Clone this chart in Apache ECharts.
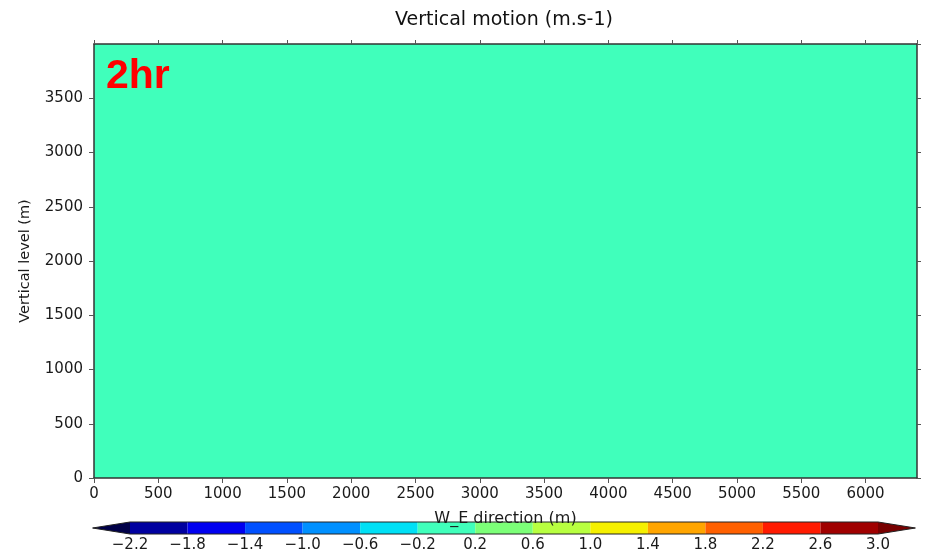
<!DOCTYPE html>
<html>
<head>
<meta charset="utf-8">
<script src="https://cdn.jsdelivr.net/npm/echarts@6/dist/echarts.min.js"></script>
<style>
    html, body { margin: 0; padding: 0; background: #fff; }
    #chart { width: 937px; height: 556px; }
</style>
</head>
<body>
<div id="chart"></div>
<script>
    // model cross-section: cell edges (m) and vertical motion (m/s) at 2hr
    var xEdges = [0, 6400];
    var zEdges = [0, 4000];
    var wField = [[0]];

    // contour levels and colours (jet), with the extend colours
    var levels = [-2.2, -1.8, -1.4, -1.0, -0.6, -0.2, 0.2, 0.6, 1.0, 1.4, 1.8, 2.2, 2.6, 3.0];
    var levelColors = ['#0000a0', '#0000f0', '#0050ff', '#0090ff', '#00e0f5', '#40ffbb',
        '#7cff78', '#b8ff40', '#f5f000', '#ffa500', '#ff6000', '#ff1a00', '#a00000'];
    var underColor = '#000048';
    var overColor = '#780000';

    var fontFamily = 'DejaVu Sans';
    var extendFrac = 0.05; // arrow length, fraction of the bar

    function colorFor(v) {
        if (v < levels[0]) return underColor;
        if (v > levels[levels.length - 1]) return overColor;
        for (var i = 0; i < levels.length - 1; i++) {
            if (v >= levels[i] && v < levels[i + 1]) return levelColors[i];
        }
        return levelColors[levelColors.length - 1];
    }

    function fmtLevel(v) {
        return v.toFixed(1).replace('-', '\u2212');
    }

    var fieldData = [];
    for (var j = 0; j < zEdges.length - 1; j++) {
        for (var i = 0; i < xEdges.length - 1; i++) {
            fieldData.push([xEdges[i], xEdges[i + 1], zEdges[j], zEdges[j + 1], wField[j][i]]);
        }
    }

    var barData = levelColors.map(function (c, i) { return [i, i + 1]; });
    var nBins = levelColors.length;
    var arrowLen = extendFrac * nBins;

    var axisLineStyle = {color: '#333', width: 1.5};
    var tickLabel = {color: '#1a1a1a', fontSize: 15, fontFamily: fontFamily};
    var plainNum = function (v) { return String(v); };

    var option = {
        animation: false,
        backgroundColor: '#fff',
        graphic: [
            {
                type: 'text', x: 504, y: 20, z: 10,
                style: {text: 'Vertical motion (m.s-1)', fill: '#111', font: '19px "DejaVu Sans"',
                    align: 'center', verticalAlign: 'middle'}
            },
            {
                type: 'text', x: 106, y: 77, z: 10,
                style: {text: '2hr', fill: '#ff0000', font: 'bold 41px "Liberation Sans"',
                    align: 'left', verticalAlign: 'middle'}
            }
        ],
        grid: [
            {left: 94, top: 44, width: 823, height: 434},
            {left: 130, top: 522, width: 748, height: 12}
        ],
        xAxis: [
            {
                type: 'value', gridIndex: 0, position: 'bottom', min: 0, max: 6400, interval: 500, z: 5,
                name: 'W_E direction (m)', nameLocation: 'middle', nameGap: 33,
                nameTextStyle: {color: '#1a1a1a', fontSize: 16, fontFamily: fontFamily},
                axisLine: {show: true, onZero: false, lineStyle: axisLineStyle},
                axisTick: {show: true, inside: false, length: 5, lineStyle: {color: '#555'}},
                axisLabel: Object.assign({margin: 9, showMaxLabel: false, formatter: plainNum}, tickLabel),
                splitLine: {show: false}
            },
            {
                type: 'value', gridIndex: 0, position: 'top', min: 0, max: 6400, interval: 500, z: 5,
                axisLine: {show: true, onZero: false, lineStyle: axisLineStyle},
                axisTick: {show: true, inside: false, length: 4, lineStyle: {color: '#555'}},
                axisLabel: {show: false},
                splitLine: {show: false}
            },
            {
                type: 'value', gridIndex: 1, min: 0, max: nBins, interval: 1,
                axisLine: {show: false},
                axisTick: {show: false},
                axisLabel: Object.assign({margin: 4, formatter: function (v) {
                    return fmtLevel(levels[Math.round(v)]);
                }}, tickLabel),
                splitLine: {show: false}
            }
        ],
        yAxis: [
            {
                type: 'value', gridIndex: 0, position: 'left', min: 0, max: 4000, interval: 500, z: 5,
                name: 'Vertical level (m)', nameLocation: 'middle', nameGap: 61, nameRotate: 90,
                nameTextStyle: {color: '#1a1a1a', fontSize: 14.5, fontFamily: fontFamily},
                axisLine: {show: true, onZero: false, lineStyle: axisLineStyle},
                axisTick: {show: true, inside: false, length: 5, lineStyle: {color: '#555'}},
                axisLabel: Object.assign({margin: 11, showMaxLabel: false, formatter: plainNum}, tickLabel),
                splitLine: {show: false}
            },
            {
                type: 'value', gridIndex: 0, position: 'right', min: 0, max: 4000, interval: 500, z: 5,
                axisLine: {show: true, onZero: false, lineStyle: axisLineStyle},
                axisTick: {show: true, inside: false, length: 4, lineStyle: {color: '#555'}},
                axisLabel: {show: false},
                splitLine: {show: false}
            },
            {type: 'value', gridIndex: 1, min: 0, max: 1, show: false}
        ],
        series: [
            {
                // the vertical motion field
                type: 'custom', xAxisIndex: 0, yAxisIndex: 0, z: 1, clip: true,
                encode: {x: [0, 1], y: [2, 3]},
                data: fieldData,
                renderItem: function (params, api) {
                    var p0 = api.coord([api.value(0), api.value(3)]);
                    var p1 = api.coord([api.value(1), api.value(2)]);
                    return {
                        type: 'rect',
                        shape: {x: p0[0], y: p0[1], width: p1[0] - p0[0], height: p1[1] - p0[1]},
                        style: {fill: colorFor(api.value(4))}
                    };
                }
            },
            {
                // colour bar bins
                type: 'custom', xAxisIndex: 2, yAxisIndex: 2, clip: false,
                encode: {x: [0, 1]},
                data: barData,
                renderItem: function (params, api) {
                    var p0 = api.coord([api.value(0), 1]);
                    var p1 = api.coord([api.value(1), 0]);
                    return {
                        type: 'rect',
                        shape: {x: p0[0], y: p0[1], width: p1[0] - p0[0], height: p1[1] - p0[1]},
                        style: {fill: levelColors[params.dataIndex]}
                    };
                }
            },
            {
                // extend arrows and outline of the colour bar
                type: 'custom', xAxisIndex: 2, yAxisIndex: 2, clip: false, z: 3,
                data: [[0, nBins]],
                renderItem: function (params, api) {
                    var lo = api.value(0), hi = api.value(1);
                    var tl = api.coord([lo - arrowLen, 0.5]);
                    var a = api.coord([lo, 1]), b = api.coord([lo, 0]);
                    var c = api.coord([hi, 1]), d = api.coord([hi, 0]);
                    var tr = api.coord([hi + arrowLen, 0.5]);
                    return {
                        type: 'group',
                        children: [
                            {type: 'polygon', shape: {points: [tl, a, b]}, style: {fill: underColor}},
                            {type: 'polygon', shape: {points: [tr, c, d]}, style: {fill: overColor}},
                            {
                                type: 'polygon', shape: {points: [tl, a, c, tr, d, b]},
                                style: {fill: null, stroke: '#222', lineWidth: 1}
                            }
                        ]
                    };
                }
            }
        ]
    };

    var myChart = echarts.init(document.getElementById('chart'));
    myChart.setOption(option);
</script>
</body>
</html>
